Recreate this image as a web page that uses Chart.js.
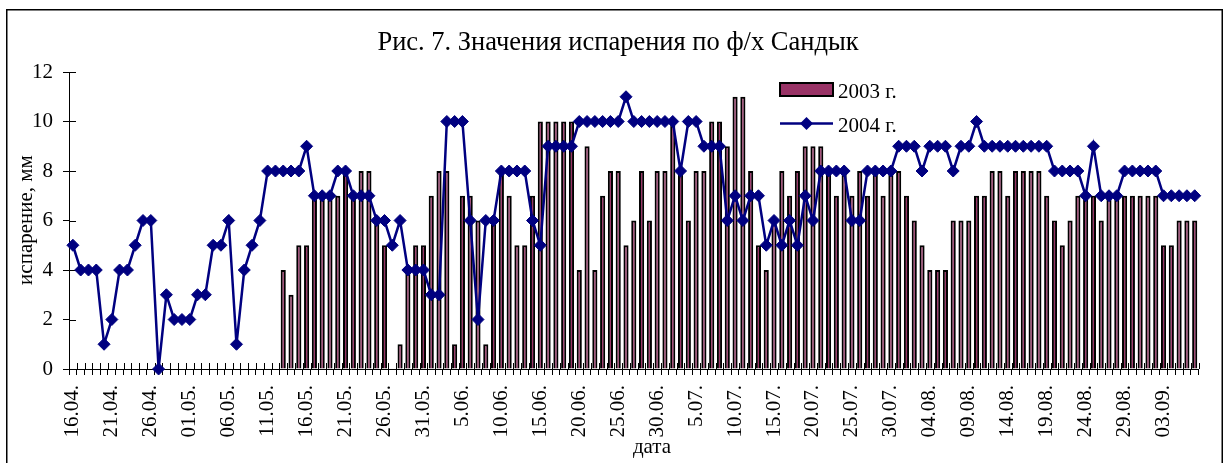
<!DOCTYPE html>
<html>
<head>
<meta charset="utf-8">
<script src="https://cdn.jsdelivr.net/npm/chart.js@4.4.1/dist/chart.umd.min.js"></script>
<style>
  html, body { margin: 0; padding: 0; background: #fff; }
  canvas { display: block; }
</style>
</head>
<body>
<canvas id="chart" width="1230" height="463"></canvas>
<script>
// one category per day, 16.04 - 07.09
const days = [
  '16.04','17.04','18.04','19.04','20.04','21.04','22.04','23.04','24.04','25.04','26.04','27.04','28.04','29.04','30.04',
  '01.05','02.05','03.05','04.05','05.05','06.05','07.05','08.05','09.05','10.05','11.05','12.05','13.05','14.05','15.05',
  '16.05','17.05','18.05','19.05','20.05','21.05','22.05','23.05','24.05','25.05','26.05','27.05','28.05','29.05','30.05','31.05',
  '01.06','02.06','03.06','04.06','05.06','06.06','07.06','08.06','09.06','10.06','11.06','12.06','13.06','14.06','15.06',
  '16.06','17.06','18.06','19.06','20.06','21.06','22.06','23.06','24.06','25.06','26.06','27.06','28.06','29.06','30.06',
  '01.07','02.07','03.07','04.07','05.07','06.07','07.07','08.07','09.07','10.07','11.07','12.07','13.07','14.07','15.07',
  '16.07','17.07','18.07','19.07','20.07','21.07','22.07','23.07','24.07','25.07','26.07','27.07','28.07','29.07','30.07','31.07',
  '01.08','02.08','03.08','04.08','05.08','06.08','07.08','08.08','09.08','10.08','11.08','12.08','13.08','14.08','15.08',
  '16.08','17.08','18.08','19.08','20.08','21.08','22.08','23.08','24.08','25.08','26.08','27.08','28.08','29.08','30.08','31.08',
  '01.09','02.09','03.09','04.09','05.09','06.09','07.09'
];

// labels shown under every 5th day
const tickLabels = [
  '16.04.','21.04.','26.04.','01.05.','06.05.','11.05.','16.05.','21.05.','26.05.','31.05.',
  '5.06.','10.06.','15.06.','20.06.','25.06.','30.06.','5.07.','10.07.','15.07.','20.07.',
  '25.07.','30.07.','04.08.','09.08.','14.08.','19.08.','24.08.','29.08.','03.09.'
];

// испарение, мм
const evap2003 = [
  null,null,null,null,null,null,null,null,null,null,
  null,null,null,null,null,null,null,null,null,null,
  null,null,null,null,null,null,null,4,3,5,
  5,7,7,7,7,8,7,8,8,6,
  5,null,1,4,5,5,7,8,8,1,
  7,7,6,1,6,8,7,5,5,7,
  10,10,10,10,10,4,9,4,7,8,
  8,5,6,8,6,8,8,10,8,6,
  8,8,10,10,9,11,11,8,5,4,
  6,8,7,8,9,9,9,8,7,8,
  7,8,7,8,7,8,8,7,6,5,
  4,4,4,6,6,6,7,7,8,8,
  7,8,8,8,8,7,6,5,6,7,
  7,7,6,7,7,7,7,7,7,7,
  5,5,6,6,6
];

const evap2004 = [
  5,4,4,4,1,2,4,4,5,6,
  6,0,3,2,2,2,3,3,5,5,
  6,1,4,5,6,8,8,8,8,8,
  9,7,7,7,8,8,7,7,7,6,
  6,5,6,4,4,4,3,3,10,10,
  10,6,2,6,6,8,8,8,8,6,
  5,9,9,9,9,10,10,10,10,10,
  10,11,10,10,10,10,10,10,8,10,
  10,9,9,9,6,7,6,7,7,5,
  6,5,6,5,7,6,8,8,8,8,
  6,6,8,8,8,8,9,9,9,8,
  9,9,9,8,9,9,10,9,9,9,
  9,9,9,9,9,9,8,8,8,8,
  7,9,7,7,7,8,8,8,8,8,
  7,7,7,7,7
];

const seriesNames = ['2003 г.', '2004 г.'];
const chartTitle = 'Рис. 7. Значения испарения по ф/х Сандык';
const yTitle = 'испарение, мм';
const xTitle = 'дата';

const SERIF = '"Liberation Serif", "Times New Roman", serif';
const barFill = '#993366';
const lineColor = '#000080';

// Excel style ticks cross the axis: draw the inner half here
const crossTicks = {
  id: 'crossTicks',
  beforeDatasetsDraw(chart) {
    const { ctx, chartArea: a, scales: { x, y } } = chart;
    const half = (x.getPixelForValue(1) - x.getPixelForValue(0)) / 2;
    ctx.save();
    ctx.strokeStyle = '#000';
    ctx.lineWidth = 1;
    ctx.beginPath();
    for (let i = 0; i <= days.length; i++) {
      const px = Math.round(x.getPixelForValue(i) - half) + 0.5;
      ctx.moveTo(px, a.bottom);
      ctx.lineTo(px, a.bottom - 6);
    }
    y.ticks.forEach((t) => {
      const py = Math.round(y.getPixelForValue(t.value)) + 0.5;
      ctx.moveTo(a.left, py);
      ctx.lineTo(a.left + 7, py);
    });
    ctx.stroke();
    ctx.restore();
  }
};

// title, axis titles, legend and frame
const decorations = {
  id: 'decorations',
  afterDraw(chart) {
    const { ctx } = chart;
    ctx.save();
    ctx.fillStyle = '#000';
    ctx.textBaseline = 'alphabetic';

    ctx.font = `26.5px ${SERIF}`;
    ctx.textAlign = 'center';
    ctx.fillText(chartTitle, 618, 50);

    ctx.font = `21px ${SERIF}`;
    ctx.fillText(xTitle, 652, 453);

    ctx.save();
    ctx.translate(32, 220);
    ctx.rotate(-Math.PI / 2);
    ctx.fillText(yTitle, 0, 0);
    ctx.restore();

    // legend
    ctx.textAlign = 'left';
    ctx.fillStyle = barFill;
    ctx.fillRect(780, 83, 53, 13);
    ctx.strokeStyle = '#000';
    ctx.lineWidth = 2;
    ctx.strokeRect(780, 83, 53, 13);
    ctx.fillStyle = '#000';
    ctx.fillText(seriesNames[0], 838, 98);

    ctx.strokeStyle = lineColor;
    ctx.lineWidth = 2.5;
    ctx.beginPath();
    ctx.moveTo(780, 123.5);
    ctx.lineTo(833, 123.5);
    ctx.stroke();
    ctx.fillStyle = lineColor;
    ctx.beginPath();
    ctx.moveTo(806.5, 117);
    ctx.lineTo(813, 123.5);
    ctx.lineTo(806.5, 130);
    ctx.lineTo(800, 123.5);
    ctx.closePath();
    ctx.fill();
    ctx.fillStyle = '#000';
    ctx.fillText(seriesNames[1], 838, 132);

    // chart frame
    ctx.strokeStyle = '#000';
    ctx.lineWidth = 1.5;
    ctx.strokeRect(6.75, 9.75, 1215.5, 500);
    ctx.restore();
  }
};

const tickFont = { family: SERIF, size: 21 };

new Chart(document.getElementById('chart'), {
  type: 'bar',
  data: {
    labels: days,
    datasets: [
      {
        type: 'line',
        label: seriesNames[1],
        data: evap2004,
        order: 0,
        borderColor: lineColor,
        borderWidth: 2.5,
        tension: 0,
        pointStyle: 'rectRot',
        pointRadius: 6,
        pointHoverRadius: 6,
        pointBackgroundColor: lineColor,
        pointBorderColor: lineColor,
        pointBorderWidth: 1,
        clip: false
      },
      {
        type: 'bar',
        label: seriesNames[0],
        data: evap2003,
        order: 1,
        backgroundColor: barFill,
        borderColor: '#000',
        borderWidth: 2,
        barPercentage: 0.66,
        categoryPercentage: 1.0
      }
    ]
  },
  options: {
    responsive: false,
    animation: false,
    devicePixelRatio: 1,
    layout: { padding: { top: 72, right: 28, left: 0, bottom: 0 } },
    plugins: {
      legend: { display: false },
      tooltip: { enabled: false },
      title: { display: false }
    },
    scales: {
      x: {
        offset: true,
        grid: { offset: true, drawOnChartArea: false, tickLength: 6, color: '#000', lineWidth: 1 },
        border: { display: true, color: '#000', width: 1 },
        ticks: {
          autoSkip: false,
          maxRotation: 90,
          minRotation: 90,
          padding: 10,
          color: '#000',
          font: tickFont,
          callback: (v, i) => (i % 5 === 0 ? tickLabels[i / 5] : '')
        },
        afterFit(scale) { scale.height = 94; }
      },
      y: {
        min: 0,
        max: 12,
        grid: { drawOnChartArea: false, tickLength: 6, color: '#000', lineWidth: 1 },
        border: { display: true, color: '#000', width: 1 },
        ticks: { stepSize: 2, padding: 10, color: '#000', font: tickFont },
        afterFit(scale) { scale.width = 69; }
      }
    }
  },
  plugins: [crossTicks, decorations]
});
</script>
</body>
</html>
